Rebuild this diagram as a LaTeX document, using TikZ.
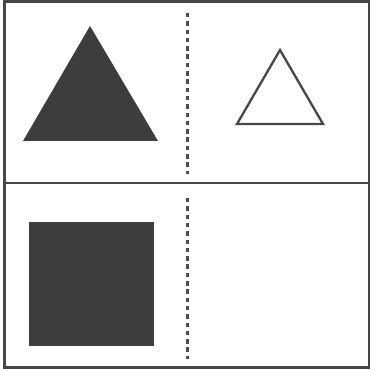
\documentclass[tikz,border=0pt]{standalone}
\begin{document}
\begin{tikzpicture}[x=1pt,y=-1pt,
  frameline/.style={draw=black!72,line width=2.4pt},
  dotline/.style={draw=black!70,line width=2.6pt,dash pattern=on 4.5pt off 3.8pt},
  solidshape/.style={fill=black!76,draw=none},
  openshape/.style={draw=black!72,line width=2.3pt,fill=white}]
\useasboundingbox (0,0) rectangle (377,371);
\fill[white] (0,0) rectangle (377,371);
% outer frame
\draw[frameline] (4.5,1.5) rectangle (369,367.5);
\draw[frameline] (4.5,183) -- (369,183);
% dotted dividers
\draw[dotline] (187.5,13) -- (187.5,174);
\draw[dotline] (187.5,198) -- (187.5,359);
% big filled triangle
\fill[solidshape] (90,26) -- (158,141) -- (23,141) -- cycle;
% small open triangle
\draw[openshape,line join=miter] (280,50) -- (323,124) -- (237,124) -- cycle;
% filled square
\fill[solidshape] (29,222) rectangle (154,346);
\end{tikzpicture}
\end{document}
